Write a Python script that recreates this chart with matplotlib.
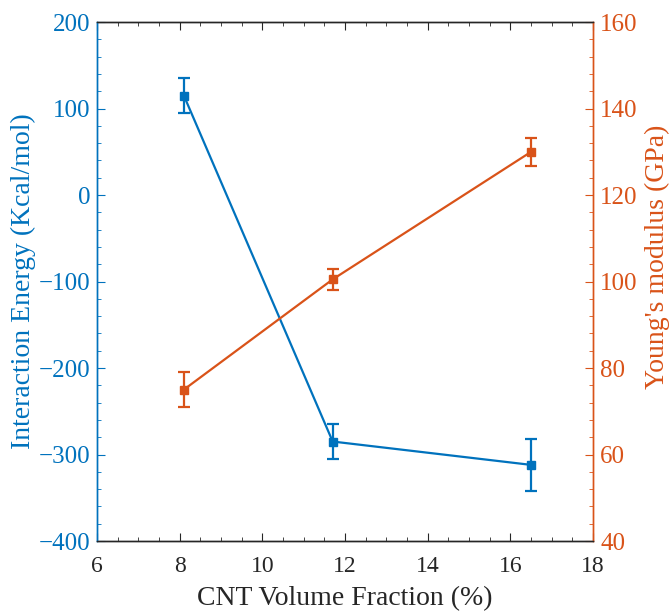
import numpy as np
import matplotlib
matplotlib.use('Agg')
import matplotlib.pyplot as plt
import matplotlib.ticker as mticker

# data
cnt_frac = [8.1, 11.7, 16.5]
energy = [115, -285, -312]
energy_err = [20, 20, 30]
modulus = [75, 100.5, 130]
modulus_err = [4, 2.5, 3.2]

blue = '#0072BD'
orange = '#D95319'
dark = '#262626'

plt.rcParams['font.family'] = ['Liberation Serif', 'DejaVu Serif']
fs_xtick = 17
fs_ytick = 18
fs_label = 20

fig = plt.figure(figsize=(6.71, 6.12), dpi=100, facecolor='white')
ax1 = fig.add_axes([0.1446, 0.116, 0.7394, 0.848])
ax2 = ax1.twinx()

ax1.errorbar(cnt_frac, energy, yerr=energy_err, color=blue, marker='s', ms=5.5,
             lw=1.6, capsize=4, capthick=1.6, elinewidth=1.6)
ax2.errorbar(cnt_frac, modulus, yerr=modulus_err, color=orange, marker='s', ms=5.5,
             lw=1.6, capsize=4, capthick=1.6, elinewidth=1.6)

ax1.set_xlim(6, 18)
ax1.set_ylim(-400, 200)
ax2.set_ylim(40, 160)

ax1.xaxis.set_major_locator(mticker.MultipleLocator(2))
ax1.xaxis.set_minor_locator(mticker.MultipleLocator(0.5))
ax1.yaxis.set_major_locator(mticker.MultipleLocator(100))
ax1.yaxis.set_minor_locator(mticker.MultipleLocator(20))
ax2.yaxis.set_major_locator(mticker.MultipleLocator(20))
ax2.yaxis.set_minor_locator(mticker.MultipleLocator(4))

ax1.tick_params(axis='x', which='both', direction='in', top=True, colors=dark, labelsize=fs_xtick, pad=11)
ax1.tick_params(axis='x', which='major', length=6)
ax1.tick_params(axis='x', which='minor', length=3)
ax1.tick_params(axis='y', which='both', direction='in', colors=blue, labelsize=fs_ytick, pad=5)
ax1.tick_params(axis='y', which='major', length=6)
ax1.tick_params(axis='y', which='minor', length=3)
ax2.tick_params(axis='y', which='both', direction='in', colors=orange, labelsize=fs_ytick, pad=5)
ax2.tick_params(axis='y', which='major', length=6)
ax2.tick_params(axis='y', which='minor', length=3)

for a in (ax1, ax2):
    a.spines['top'].set_color(dark)
    a.spines['bottom'].set_color(dark)
    a.spines['left'].set_color(blue)
    a.spines['right'].set_color(orange)
    a.spines[:].set_linewidth(1.0)

ax1.set_xlabel('CNT Volume Fraction (%)', fontsize=fs_label, color=dark, labelpad=6)
ax1.set_ylabel('Interaction Energy (Kcal/mol)', fontsize=fs_label, color=blue, labelpad=2)
ax2.set_ylabel("Young's modulus (GPa)", fontsize=fs_label, color=orange)
ax2.yaxis.set_label_coords(1.105, 0.547)

fig.savefig('out.png', dpi=100)
